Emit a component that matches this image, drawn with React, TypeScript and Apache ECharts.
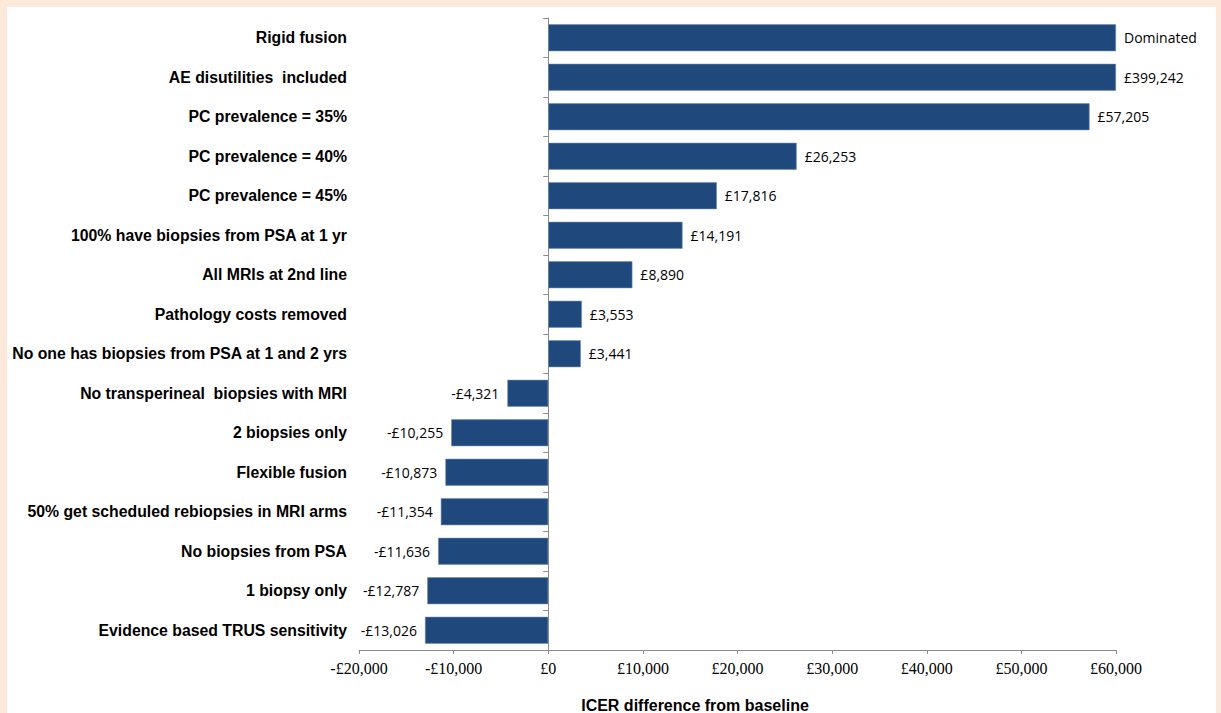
import React, { useEffect, useRef } from "react";
import * as echarts from "echarts";

const categories = [
  "Rigid fusion",
  "AE disutilities  included",
  "PC prevalence = 35%",
  "PC prevalence = 40%",
  "PC prevalence = 45%",
  "100% have biopsies from PSA at 1 yr",
  "All MRIs at 2nd line",
  "Pathology costs removed",
  "No one has biopsies from PSA at 1 and 2 yrs",
  "No transperineal  biopsies with MRI",
  "2 biopsies only",
  "Flexible fusion",
  "50% get scheduled rebiopsies in MRI arms",
  "No biopsies from PSA",
  "1 biopsy only",
  "Evidence based TRUS sensitivity",
];

// null = Dominated
const icerDiff: (number | null)[] = [
  null, 399242, 57205, 26253, 17816, 14191, 8890, 3553, 3441,
  -4321, -10255, -10873, -11354, -11636, -12787, -13026,
];

const xMin = -20000;
const xMax = 60000;
const xInterval = 10000;
const axisTitle = "ICER difference from baseline";

const fmt = (v: number) =>
  (v < 0 ? "-£" : "£") + Math.abs(v).toLocaleString("en-GB");

export default function App() {
  const ref = useRef<HTMLDivElement>(null);
  useEffect(() => {
    if (!ref.current) return;
    const chart = echarts.init(ref.current, null, { renderer: "svg" });
    const gridLeft = 359;
    const gridRight = 105;
    const gridWidth = 1221 - gridLeft - gridRight;
    const zeroOffset = (gridWidth * (0 - xMin)) / (xMax - xMin);
    const data = icerDiff.map((v) => {
      const shown = v === null ? xMax : Math.min(v, xMax);
      const label = v === null ? "Dominated" : fmt(v);
      return {
        value: shown,
        label: {
          show: true,
          position: shown >= 0 ? "right" : "left",
          formatter: label,
        },
      };
    });
    chart.setOption({
      animation: false,
      backgroundColor: "#FDE9D9",
      graphic: [
        {
          type: "rect",
          z: -10,
          shape: { x: 7, y: 7, width: 1209, height: 720 },
          style: { fill: "#ffffff" },
        },
        {
          type: "text",
          x: 695,
          y: 705,
          style: {
            text: axisTitle,
            font: "bold 16px 'Liberation Sans', Arial, sans-serif",
            fill: "#000",
            textAlign: "center",
            textVerticalAlign: "middle",
          },
        },
      ],
      grid: { left: gridLeft, right: gridRight, top: 18, bottom: 63 },
      xAxis: {
        type: "value",
        min: xMin,
        max: xMax,
        interval: xInterval,
        splitLine: { show: false },
        axisLine: { show: true, lineStyle: { color: "#8c8c8c" } },
        axisTick: { show: true, length: 4, lineStyle: { color: "#8c8c8c" } },
        axisLabel: {
          color: "#000",
          fontFamily: "'Liberation Serif', 'Times New Roman', serif",
          fontSize: 16,
          margin: 10,
          formatter: (v: number) => fmt(v),
        },
      },
      yAxis: [
        {
          type: "category",
          data: categories,
          inverse: true,
          axisLine: { show: false },
          axisTick: { show: false },
          axisLabel: {
            color: "#000",
            fontFamily: "'Liberation Sans', Arial, sans-serif",
            fontWeight: "bold",
            fontSize: 15.8,
            margin: 12,
          },
        },
        {
          type: "category",
          data: categories,
          inverse: true,
          position: "left",
          offset: -zeroOffset,
          axisLine: { show: true, onZero: false, lineStyle: { color: "#8c8c8c" } },
          axisTick: { show: true, inside: false, length: 5, lineStyle: { color: "#8c8c8c" } },
          axisLabel: { show: false },
        },
      ],
      series: [
        {
          type: "bar",
          yAxisIndex: 0,
          data,
          barCategoryGap: "32%",
          itemStyle: { color: "#1F497D", borderColor: "#6f8cb0", borderWidth: 0.6 },
          label: {
            color: "#000",
            fontFamily: "'Open Sans', 'Noto Sans', sans-serif",
            fontSize: 14,
            distance: 8,
          },
        },
      ],
    });
    return () => chart.dispose();
  }, []);
  return (
    <div
      ref={ref}
      style={{ position: "fixed", left: 0, top: 0, width: 1221, height: 713 }}
    />
  );
}
